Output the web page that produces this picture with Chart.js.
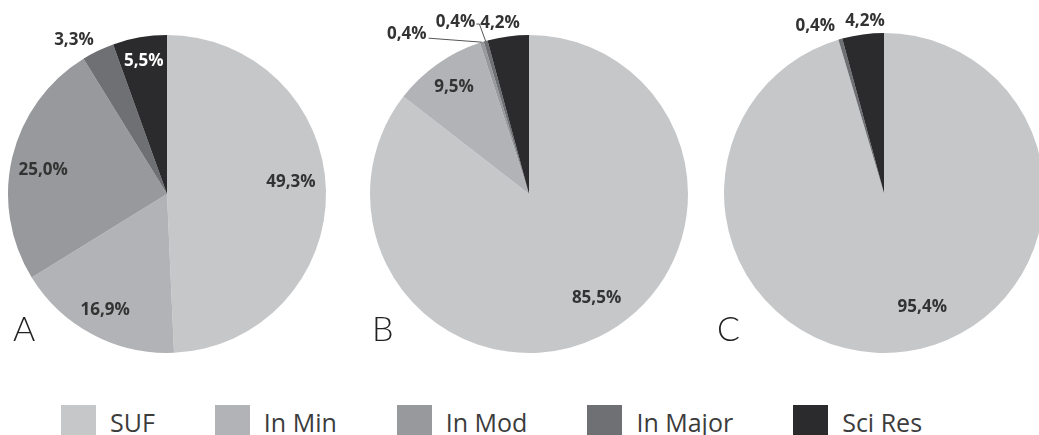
<!DOCTYPE html>
<html>
<head>
<meta charset="utf-8">
<script src="https://cdn.jsdelivr.net/npm/chart.js@4/dist/chart.umd.min.js"></script>
<style>
  html, body { margin: 0; padding: 0; background: #fff; overflow: hidden; }
  body { width: 1039px; height: 435px; position: relative; font-family: "Open Sans", sans-serif; }
  .pie { position: absolute; top: 0; height: 360px; }
  .tag { position: absolute; top: 307px; font-family: Lato, "DejaVu Sans", sans-serif; font-weight: 300; font-size: 34px; color: #222; }
  #legend { position: absolute; left: 61px; top: 405px; display: flex; gap: 60px; }
  .item { display: flex; align-items: flex-start; color: #3c3c3c; font-size: 25px; }
  .box { width: 35px; height: 34px; margin-right: 14px; }
  .item span { line-height: 34px; margin-top: 0px; }
</style>
</head>
<body>
<div class="pie" style="left:0;width:340px"><canvas id="pieA"></canvas></div>
<div class="pie" style="left:362px;width:340px"><canvas id="pieB"></canvas></div>
<div class="pie" style="left:700px;width:360px"><canvas id="pieC"></canvas></div>
<div class="tag" style="left:13px">A</div>
<div class="tag" style="left:372px">B</div>
<div class="tag" style="left:717px">C</div>
<div id="legend"></div>

<script>
'use strict'

var categories = ['SUF', 'In Min', 'In Mod', 'In Major', 'Sci Res'];
var colors = ['#c6c7c9', '#b2b3b6', '#98999c', '#6f7073', '#2b2a2c'];

var valuesA = [49.3, 16.9, 25.0, 3.3, 5.5];
var valuesB = [85.5, 9.5, 0.4, 0.4, 4.2];
var valuesC = [95.4, 0, 0, 0.4, 4.2];

// label placement per slice: inside -> r is fraction of radius; outside -> offset from the rim
var placeA = [
    { r: 0.78, dx: 0, dy: -9 },
    { r: 0.83, dx: 0, dy: 0 },
    { r: 0.8, dx: 0, dy: 5 },
    { r: 1, dx: -24, dy: -11 },
    { r: 0.85, dx: 0, dy: 0, color: '#fff' }
];
var placeB = [
    { r: 0.78, dx: 13, dy: -7 },
    { r: 0.82, dx: 0, dy: 0 },
    { r: 1, dx: -75, dy: -8, line: true },
    { r: 1, dx: -30, dy: -19, line: true },
    { r: 1, dx: -8, dy: -13 }
];
var placeC = [
    { r: 0.75, dx: 21, dy: -5 },
    null,
    null,
    { r: 1, dx: -25, dy: -13 },
    { r: 1, dx: 2, dy: -13 }
];

function fmt(v) {
    return v.toFixed(1).replace('.', ',') + '%';
}

var sliceLabels = {
    id: 'sliceLabels',
    afterDatasetsDraw(chart, args, opts) {
        var ctx = chart.ctx;
        var meta = chart.getDatasetMeta(0);
        var values = chart.data.datasets[0].data;
        ctx.save();
        ctx.font = 'bold 17px "Open Sans"';
        ctx.textAlign = 'center';
        ctx.textBaseline = 'middle';
        meta.data.forEach(function (arc, i) {
            var p = opts.place[i];
            if (!p || !values[i]) return;
            var a = (arc.startAngle + arc.endAngle) / 2;
            var R = arc.outerRadius;
            var ex = arc.x + Math.cos(a) * R * p.r;
            var ey = arc.y + Math.sin(a) * R * p.r;
            var tx = ex + p.dx;
            var ty = ey + p.dy;
            var text = fmt(values[i]);
            if (p.line) {
                var w = ctx.measureText(text).width;
                ctx.strokeStyle = '#555';
                ctx.lineWidth = 1;
                ctx.beginPath();
                if (p.dx < -50) {
                    ctx.moveTo(tx + w / 2 + 2, ty + 4);
                    ctx.lineTo(ex, ey);
                } else {
                    ctx.moveTo(tx + w / 2 + 1, ty + 2);
                    ctx.lineTo(tx + w / 2 + 4, ty + 2);
                    ctx.lineTo(ex, ey);
                }
                ctx.stroke();
            }
            ctx.fillStyle = p.color || '#333';
            ctx.fillText(text, tx, ty);
        });
        ctx.restore();
    }
};

function makePie(id, values, place, pad) {
    return new Chart(document.getElementById(id), {
        type: 'pie',
        data: {
            labels: categories,
            datasets: [{
                data: values,
                backgroundColor: colors,
                borderWidth: 0,
            }]
        },
        options: {
            responsive: true,
            maintainAspectRatio: false,
            animation: false,
            layout: {
                padding: pad
            },
            plugins: {
                legend: { display: false },
                tooltip: { enabled: false },
                sliceLabels: { place: place }
            }
        },
        plugins: [sliceLabels]
    });
}

makePie('pieA', valuesA, placeA, { left: 8, right: 14, top: 35, bottom: 7 });
makePie('pieB', valuesB, placeB, { left: 8, right: 14, top: 35, bottom: 7 });
makePie('pieC', valuesC, placeC, { left: 24, right: 16, top: 33, bottom: 7 });

var legend = document.getElementById('legend');
categories.forEach(function (name, i) {
    var item = document.createElement('div');
    item.className = 'item';
    var box = document.createElement('div');
    box.className = 'box';
    box.style.background = colors[i];
    var label = document.createElement('span');
    label.textContent = name;
    item.appendChild(box);
    item.appendChild(label);
    legend.appendChild(item);
});
</script>
</body>
</html>
